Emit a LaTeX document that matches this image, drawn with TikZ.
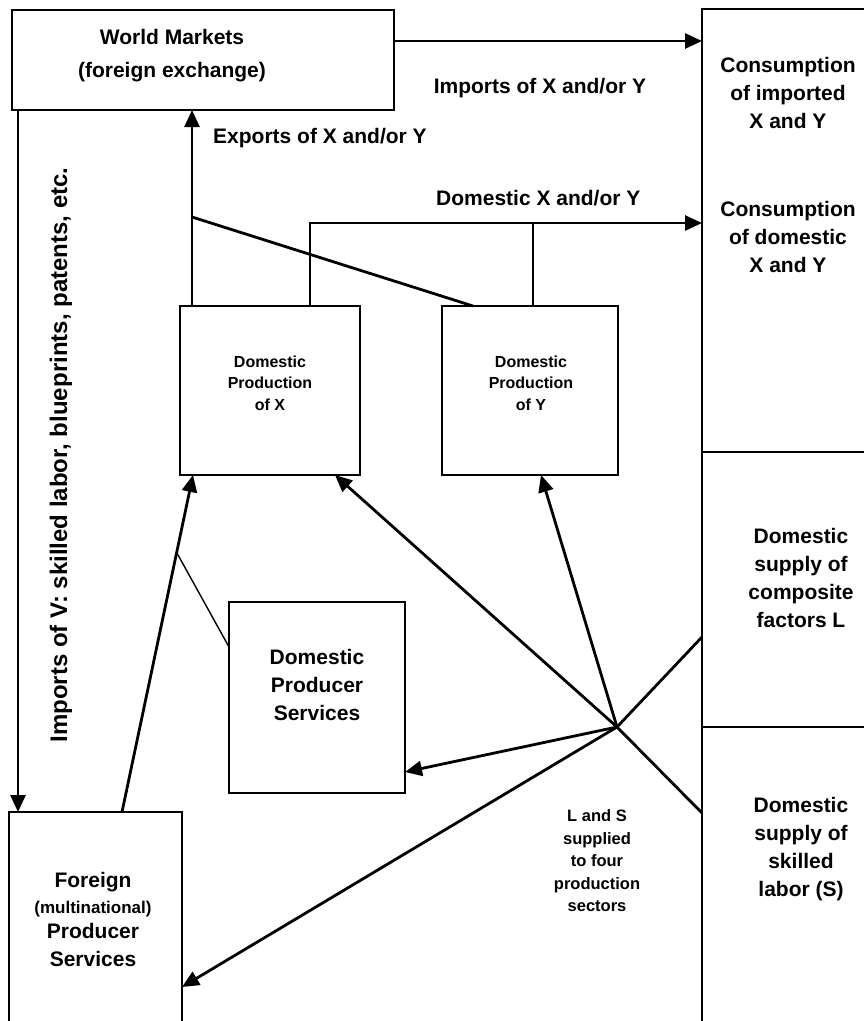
\documentclass[tikz,border=0pt]{standalone}
\usepackage{fontspec}
\setmainfont{Liberation Sans}
\usetikzlibrary{arrows.meta, positioning, calc}
\tikzstyle{panel} = [rectangle, draw=black, line width=2.8pt, anchor=north west, inner sep=0pt, outer sep=0pt]
\tikzstyle{bigtext} = [font=\fontsize{21}{28}\selectfont\bfseries, align=center, inner sep=0pt]
\tikzstyle{smalltext} = [font=\fontsize{16}{21.5}\selectfont\bfseries, align=center, inner sep=0pt]
\tikzstyle{arrow} = [line width=2.8pt, -{Triangle[length=17pt,width=15pt]}]
\tikzstyle{link} = [line width=2.8pt]
\tikzstyle{thinlink} = [line width=1.4pt]

\begin{document}
\begin{tikzpicture}[x=1pt, y=-1pt]
      \useasboundingbox (0,0) rectangle (864,1021);
      \clip (0,0) rectangle (864,1021);
      % boxes
      \node[panel, minimum width=382pt, minimum height=100pt] (wm) at (12,10) {};
      \node[panel, minimum width=200pt, minimum height=443pt] (cons) at (702,9) {};
      \node[panel, minimum width=200pt, minimum height=275pt] (supL) at (702,452) {};
      \node[panel, minimum width=200pt, minimum height=330pt] (supS) at (702,727) {};
      \node[panel, minimum width=180pt, minimum height=169pt] (xbox) at (180,306) {};
      \node[panel, minimum width=176pt, minimum height=169pt] (ybox) at (442,306) {};
      \node[panel, minimum width=176pt, minimum height=191pt] (dps) at (229,602) {};
      \node[panel, minimum width=173pt, minimum height=240pt] (fps) at (9,812) {};

      % texts
      \node[bigtext, font=\fontsize{21}{33}\selectfont\bfseries] (wmlab) at (172,56) {World Markets\\(foreign exchange)};
      \node[bigtext] (implab) at (540,88) {Imports of X and/or Y};
      \node[bigtext, anchor=west] (explab) at (213,138) {Exports of X and/or Y};
      \node[bigtext, anchor=west] (domlab) at (436,198) {Domestic X and/or Y};
      \node[bigtext] (conslab1) at (788,93) {Consumption\\of imported\\X and Y};
      \node[bigtext] (conslab2) at (788,237) {Consumption\\of domestic\\X and Y};
      \node[bigtext] (supLlab) at (801,578) {Domestic\\supply of\\composite\\factors L};
      \node[bigtext] (supSlab) at (801,849) {Domestic\\supply of\\skilled\\labor (S)};
      \node[smalltext] (xlab) at (270,383) {Domestic\\Production\\of X};
      \node[smalltext] (ylab) at (531,383) {Domestic\\Production\\of Y};
      \node[bigtext] (dpslab) at (317,685) {Domestic\\Producer\\Services};
      \node[bigtext, align=center] (fpslab) at (93,919) {Foreign\\[-2pt]{\fontsize{17}{21}\selectfont (multinational)}\\[-3pt]Producer\\Services};
      \node[smalltext, font=\fontsize{16.5}{22.5}\selectfont\bfseries] (lslab) at (597,861) {L and S\\supplied\\to four\\production\\sectors};
      \node[bigtext, font=\fontsize{24}{28}\selectfont\bfseries, rotate=90] (vlab) at (61,455) {Imports of V: skilled labor, blueprints, patents, etc.};

      % points
      \coordinate (impstart) at ([yshift=-31pt]wm.north east);
      \coordinate (impv) at ([xshift=6pt]wm.south west);
      \coordinate (expfoot) at ([xshift=12pt]xbox.north west);
      \coordinate (expjoin) at ([yshift=89pt]expfoot);
      \coordinate (domx) at ([xshift=130pt]xbox.north west);
      \coordinate (domy) at ([xshift=91pt]ybox.north west);
      \coordinate (domturn) at ([yshift=83pt]domx);
      \coordinate (hub) at (617,727);
      \coordinate (fpsfoot) at ([xshift=113pt]fps.north west);
      \coordinate (xfoot) at ([xshift=13pt]xbox.south west);

      % connectors
      \draw[arrow] (impstart) -- (impstart -| cons.west);
      \draw[arrow] (impv) -- (impv |- fps.north);
      \draw[arrow] (expfoot) -- (expfoot |- wm.south);
      \draw[link] (expjoin) -- ([xshift=31pt]ybox.north west);
      \draw[arrow] (domx) -- (domturn) -- (domturn -| cons.west);
      \draw[link] (domy) -- (domy |- domturn);
      \draw[arrow] (hub) -- ([xshift=-25pt]xbox.south east);
      \draw[arrow] (hub) -- ([xshift=-77pt]ybox.south east);
      \draw[arrow] (hub) -- ([yshift=21pt]dps.south east);
      \draw[arrow] (hub) -- ([yshift=-175pt]fps.north east);
      \draw[link] (hub) -- ([yshift=-185pt]supL.north west);
      \draw[link] (hub) -- ([yshift=-86pt]supS.north west);
      \draw[arrow] (fpsfoot) -- (xfoot);
      \draw[thinlink] ([yshift=-45pt]dps.north west) -- ($(fpsfoot)!0.77!(xfoot)$);
    \end{tikzpicture}
\end{document}
